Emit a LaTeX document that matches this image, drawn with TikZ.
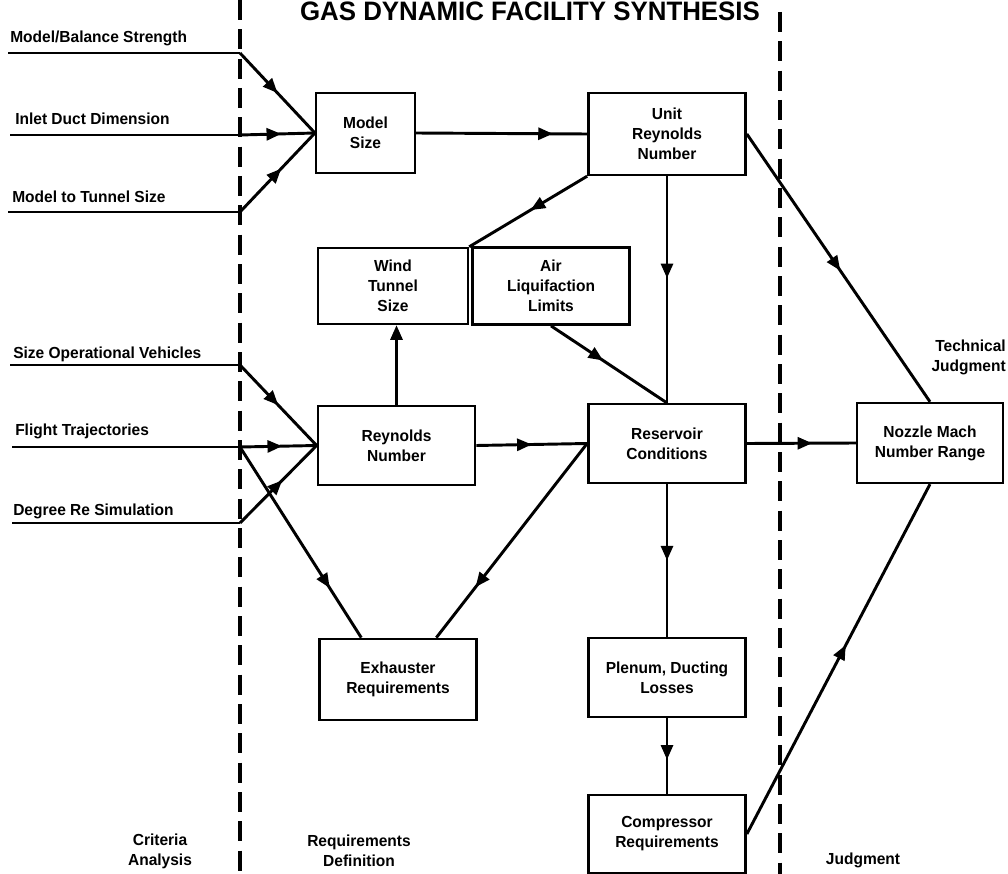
\documentclass[tikz,border=0pt]{standalone}
\usepackage{fontspec}
\setmainfont{Liberation Sans}[FakeStretch=0.97]
\usetikzlibrary{arrows.meta,calc,decorations.markings}

\begin{document}
\begin{tikzpicture}[x=0.75pt,y=-0.75pt,box/.style={draw,line width=1.8pt,minimum width=118pt,minimum height=59pt,align=center,inner sep=2pt,font=\fontsize{12}{15}\selectfont\bfseries},lbl/.style={inner sep=0pt,align=center,font=\fontsize{12}{15}\selectfont\bfseries},conn/.style={line width=2.2pt},arr/.style={conn,-{Triangle[length=11pt,width=9pt]}},midarr/.style={conn,postaction={decorate},decoration={markings,mark=at position #1 with {\arrow{Triangle[length=11pt,width=9pt]}}}},border/.style={line width=3pt,dash pattern=on 15pt off 7pt}]
\useasboundingbox (0,0) rectangle (1008,874);
\node[anchor=base,inner sep=0pt,font=\fontsize{20}{20}\selectfont\bfseries] (title) at (530,21) {GAS DYNAMIC FACILITY SYNTHESIS};
% phase borders
\coordinate (lt) at (240,0);\coordinate (lb) at (240,874);
\coordinate (rt) at (780,12);\coordinate (rb) at (780,874);
\draw[border] (lt)--(lb);\draw[border] (rt)--(rb);
% blocks
\node[box,minimum width=74pt,minimum height=60pt] (model) at (365.5,133) {Model\\Size};
\node[box,minimum height=61.5pt] (unitre) at (667,134) {Unit\\Reynolds\\Number};
\node[box,minimum width=112.5pt,minimum height=57pt] (wind) at (393,286) {Wind\\Tunnel\\Size};
\node[box,minimum height=58pt] (air) at (551,286) {Air\\Liquifaction\\Limits};
\node[box] (reyn) at (396.5,445.5) {Reynolds\\Number};
\node[box] (resv) at (667,443.5) {Reservoir\\Conditions};
\node[box,minimum width=109.5pt,minimum height=60pt] (nozzle) at (930,443) {Nozzle Mach\\Number Range};
\node[box,minimum height=61pt] (exh) at (398,679.5) {Exhauster\\Requirements};
\node[box] (plenum) at (667,677.5) {Plenum, Ducting\\Losses};
\node[box,minimum height=58.5pt] (comp) at (667,834) {Compressor\\Requirements};
% criteria inputs
\node[lbl,anchor=base west] (mbsT) at (10,43) {Model/Balance Strength};
\node[lbl,anchor=base west] (iddT) at (15,125) {Inlet Duct Dimension};
\node[lbl,anchor=base west] (mtsT) at (12,203) {Model to Tunnel Size};
\node[lbl,anchor=base west] (sovT) at (13,358) {Size Operational Vehicles};
\node[lbl,anchor=base west] (ftT) at (15,435) {Flight Trajectories};
\node[lbl,anchor=base west] (drsT) at (13,515) {Degree Re Simulation};
\coordinate (mbs0) at (8,53);\coordinate (mbs1) at (240,53);
\coordinate (idd0) at (10,135);\coordinate (idd1) at (240,135);
\coordinate (mts0) at (8,212);\coordinate (mts1) at (240,212);
\coordinate (sov0) at (10,365);\coordinate (sov1) at (240,365);
\coordinate (ft0) at (12,447);\coordinate (ft1) at (240,447);
\coordinate (drs0) at (12,523);\coordinate (drs1) at (240,523);
\draw[conn] (mbs0)--(mbs1);\draw[midarr=0.5] (mbs1)--(model.west);
\draw[conn] (idd0)--(idd1);\draw[midarr=0.55] (idd1)--(model.west);
\draw[conn] (mts0)--(mts1);\draw[midarr=0.55] (mts1)--(model.west);
\draw[conn] (sov0)--(sov1);\draw[midarr=0.5] (sov1)--(reyn.west);
\draw[conn] (ft0)--(ft1);\draw[midarr=0.55] (ft1)--(reyn.west);
\draw[conn] (drs0)--(drs1);\draw[midarr=0.55] (drs1)--(reyn.west);
\draw[midarr=0.74] (ft1)--($(exh.north west)!0.27!(exh.north east)$);
% flow
\draw[midarr=0.8] (model.east)--(unitre.west);
\draw[midarr=0.48] (unitre.south west)--(wind.north east);
\draw[midarr=0.45] (unitre.south)--(resv.north);
\draw[midarr=0.45] (air.south)--(resv.north);
\draw[arr] (reyn.north)--(reyn.north |- wind.south);
\draw[midarr=0.5] (reyn.east)--(resv.west);
\draw[midarr=0.74] (resv.west)--($(exh.north west)!0.74!(exh.north east)$);
\draw[midarr=0.6] (resv.east)--(nozzle.west);
\draw[midarr=0.51] (unitre.east)--(nozzle.north);
\draw[midarr=0.5] (resv.south)--(plenum.north);
\draw[midarr=0.55] (plenum.south)--(comp.north);
\draw[midarr=0.54] (comp.east)--(nozzle.south);
% phase labels
\node[lbl,anchor=north east,align=right] (techj) at (1006,340) {Technical\\Judgment};
\node[lbl] (crit) at (160,851) {Criteria\\Analysis};
\node[lbl] (reqdef) at (359,851) {Requirements\\Definition};
\node[lbl] (judg) at (863,860) {Judgment};
\end{tikzpicture}
\end{document}
